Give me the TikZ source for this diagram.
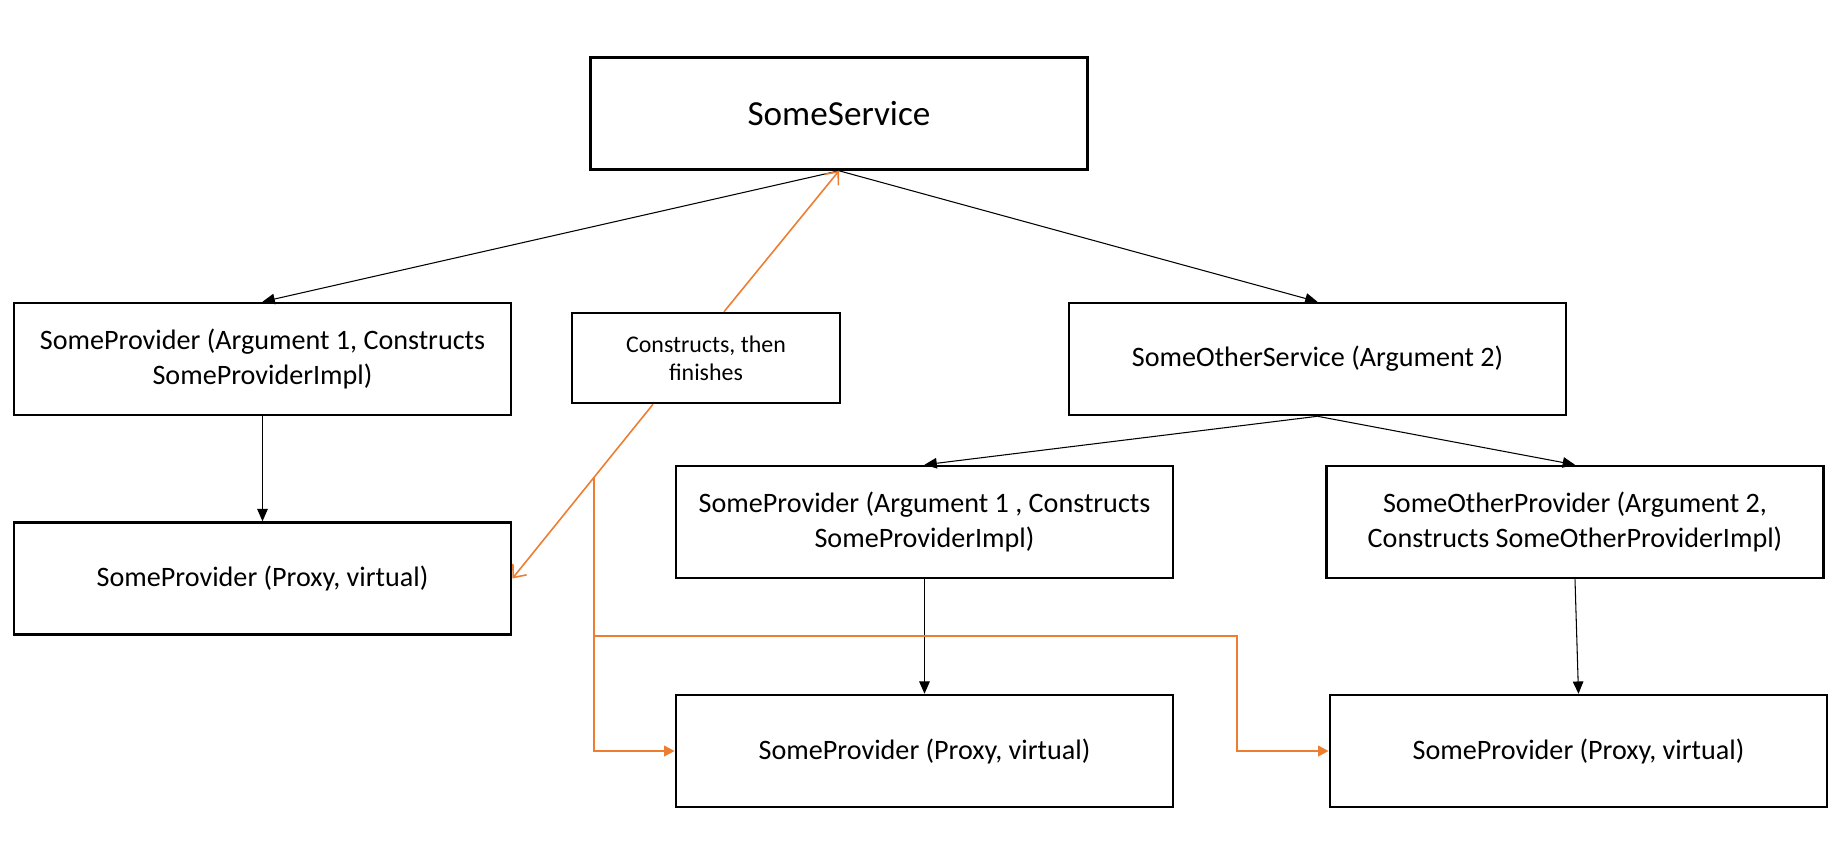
\documentclass[tikz,border=0pt]{standalone}
\usepackage{fontspec}
\setmainfont{Carlito}
\usetikzlibrary{arrows.meta,% Triangle and Straight Barb tips
calc}
\definecolor{wordorange}{RGB}{237,125,49}

\begin{document}
\begin{tikzpicture}[x=0.01cm,y=-0.01cm,
  every node/.style={inner sep=0pt, align=center, font=\fontsize{8}{10}\selectfont},
  box/.style={draw, line width=0.7pt, minimum width=4.97cm, minimum height=1.12cm},
  notebox/.style={draw, line width=0.7pt, minimum width=2.68cm, minimum height=0.9cm,
    font=\fontsize{6.8}{8}\selectfont},
  link/.style={line width=0.3pt, -{Triangle[length=3.5pt,width=3pt]}},
  back/.style={draw=wordorange, line width=0.45pt, -{Straight Barb[length=3pt,width=5pt]}},
  split/.style={draw=wordorange, line width=0.6pt, -{Triangle[length=3pt,width=3pt]}}
% sizes are in pixels of the 1847 x 850 sheet
]
\useasboundingbox (0,0) rectangle (1847,850);

\path (839,113.5) node[box, font=\fontsize{10}{12}\selectfont] (srv) {SomeService};

\path (262.5,359) node[box] (provA) {SomeProvider (Argument 1, Constructs\\ SomeProviderImpl)};
\path (262.5,578.5) node[box] (proxyA) {SomeProvider (Proxy, virtual)};
\path (706,358) node[notebox] (note) {Constructs, then\\ finishes};
\path (1317.5,359) node[box] (other) {SomeOtherService (Argument 2)};

\path (924.5,522) node[box] (provB) {SomeProvider (Argument 1 , Constructs\\ SomeProviderImpl)};
\path (1575,522) node[box] (otherProv) {SomeOtherProvider (Argument 2,\\ Constructs SomeOtherProviderImpl)};
\path (924.5,751) node[box] (proxyB) {SomeProvider (Proxy, virtual)};
\path (1578.5,751) node[box] (proxyC) {SomeProvider (Proxy, virtual)};

\draw[link] (srv.south) -- (provA.north);
\draw[link] (srv.south) -- (other.north);
\draw[link] (provA.south) -- (proxyA.north);
\draw[link] (other.south) -- (provB.north);
\draw[link] (other.south) -- (otherProv.north);
\draw[link] (provB.south) -- (proxyB.north);
\draw[link] (otherProv.south) -- (proxyC.north);

% orange: the note and the proxies
\coordinate (up) at ($(note.north)+(18,0)$);
\coordinate (down) at ($(note.south)+(-53,0)$);
\draw[back] (up) -- (srv.south);
\draw[back] (down) -- (proxyA.east);
\coordinate (br) at ($(down)!0.42!(proxyA.east)$);
\coordinate (elbow) at (1237,636);
\draw[split] (br) |- (proxyB.west);
\draw[split] (br |- elbow) -| (elbow) |- (proxyC.west);
\end{tikzpicture}
\end{document}
